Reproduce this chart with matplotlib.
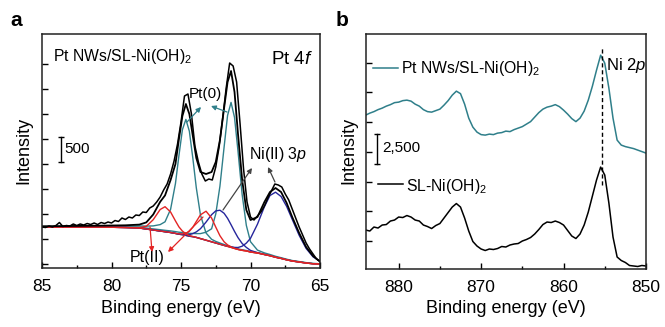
import matplotlib
matplotlib.use("Agg")
import matplotlib.pyplot as plt
from matplotlib.transforms import blended_transform_factory

plt.rcParams['font.family'] = ['Liberation Sans', 'DejaVu Sans']
plt.rcParams['mathtext.fontset'] = 'custom'
plt.rcParams['mathtext.rm'] = 'Liberation Sans'
plt.rcParams['mathtext.it'] = 'Liberation Sans:italic'
plt.rcParams['mathtext.bf'] = 'Liberation Sans:bold'

# ---------------- Panel a: Pt 4f region ----------------
E_fit = [85, 83, 81, 79, 78, 77.5, 77, 76.5, 76.15, 75.75, 75.4, 75.15, 74.9, 74.65, 74.4, 74.15,
         73.9, 73.6, 73.2, 72.8, 72.5, 72.2, 71.9, 71.65, 71.4, 71.15, 70.9, 70.6, 70.3, 70, 69.5,
         69, 68.6, 68.2, 67.8, 67.4, 67, 66.5, 66, 65.5, 65]
background = [740, 740, 740, 730, 720, 700, 680, 660, 646, 630, 612, 596, 586, 572, 556, 546,
              532, 508, 476, 444, 420, 396, 372, 352, 332, 312, 292, 274, 262, 240, 220,
              190, 166, 136, 112, 84, 60, 40, 20, 5, 0]
pt0_52 = [747, 749, 754, 758, 762, 758, 762, 788, 844, 1094, 1610, 2168, 2686, 2892, 2656, 2118,
          1524, 978, 620, 494, 452, 420, 390, 368, 346, 324, 303, 284, 271, 248, 227,
          196, 172, 141, 117, 88, 64, 44, 24, 8, 3]
pt0_72 = [748, 750, 752, 746, 738, 720, 702, 686, 674, 662, 648, 636, 630, 622, 612, 612,
          608, 608, 636, 704, 1000, 1556, 2338, 2972, 3232, 2932, 2258, 1386, 772, 446, 278,
          222, 190, 154, 126, 96, 70, 49, 28, 12, 6]
pt2_52 = [740, 740, 740, 730, 727, 754, 886, 1090, 1146, 1040, 862, 742, 659, 604, 568, 550,
          532, 508, 476, 444, 420, 396, 372, 352, 332, 312, 292, 274, 262, 240, 220,
          190, 166, 136, 112, 84, 60, 40, 20, 5, 0]
pt2_72 = [740, 740, 740, 730, 720, 700, 680, 660, 646, 630, 612, 602, 602, 616, 654, 736,
          850, 984, 1056, 920, 738, 566, 444, 382, 342, 312, 292, 274, 262, 240, 220,
          190, 166, 136, 112, 84, 60, 40, 20, 5, 0]
ni3p_a = [740, 740, 740, 730, 720, 700, 680, 660, 646, 630, 612, 598, 593, 588, 588, 608,
          642, 706, 838, 986, 1062, 1076, 1014, 914, 786, 652, 528, 410, 332, 272, 227,
          190, 166, 136, 112, 84, 60, 40, 20, 5, 0]
ni3p_b = [740, 740, 740, 730, 720, 700, 680, 660, 646, 630, 612, 596, 586, 572, 556, 546,
          532, 508, 476, 444, 420, 396, 372, 356, 342, 332, 330, 356, 418, 514, 796,
          1146, 1370, 1436, 1350, 1152, 894, 574, 312, 143, 56]
envelope = [755, 760, 766, 774, 788, 832, 990, 1244, 1372, 1680, 2000, 2500, 2960, 3200, 3000, 2560,
            2120, 1840, 1800, 1840, 2040, 2480, 3120, 3640, 3860, 3440, 2600, 1680, 1080, 880, 940,
            1240, 1440, 1520, 1440, 1220, 940, 620, 340, 160, 50]

E_data = [85.0, 84.75, 84.5, 84.25, 84.0, 83.75, 83.5, 83.25, 83.0, 82.75,
          82.5, 82.25, 82.0, 81.75, 81.5, 81.25, 81.0, 80.75, 80.5, 80.25,
          80.0, 79.75, 79.5, 79.25, 79.0, 78.75, 78.5, 78.25, 78.0, 77.75,
          77.5, 77.25, 77.0, 76.75, 76.5, 76.25, 76.0, 75.75, 75.5, 75.25,
          75.0, 74.75, 74.5, 74.25, 74.0, 73.75, 73.5, 73.25, 73.0, 72.75,
          72.5, 72.25, 72.0, 71.75, 71.5, 71.25, 71.0, 70.75, 70.5, 70.25,
          70.0, 69.75, 69.5, 69.25, 69.0, 68.75, 68.5, 68.25, 68.0, 67.75,
          67.5, 67.25, 67.0, 66.75, 66.5, 66.25, 66.0, 65.75, 65.5, 65.25, 65.0]
I_data = [740, 730, 760, 740, 770, 830, 750, 770, 760, 800,
          770, 800, 780, 810, 790, 820, 790, 830, 810, 840,
          820, 870, 850, 920, 890, 940, 920, 980, 970, 1040,
          1030, 1120, 1160, 1240, 1340, 1480, 1600, 1800, 2060, 2400,
          2840, 3360, 3400, 3000, 2360, 2040, 1800, 1660, 1700, 1680,
          1940, 2360, 2920, 3520, 4020, 3960, 3640, 2800, 1900, 1240,
          940, 880, 960, 1040, 1160, 1320, 1460, 1600, 1580, 1540,
          1400, 1280, 1100, 920, 740, 580, 420, 300, 200, 100, 50]

# ---------------- Panel b: Ni 2p region ----------------
E_b = [884.0, 883.5, 883.0, 882.5, 882.0, 881.5, 881.0, 880.5, 880.0, 879.5,
       879.0, 878.5, 878.0, 877.5, 877.0, 876.5, 876.0, 875.5, 875.0, 874.5,
       874.0, 873.5, 873.0, 872.5, 872.0, 871.5, 871.0, 870.5, 870.0, 869.5,
       869.0, 868.5, 868.0, 867.5, 867.0, 866.5, 866.0, 865.5, 865.0, 864.5,
       864.0, 863.5, 863.0, 862.5, 862.0, 861.5, 861.0, 860.5, 860.0, 859.5,
       859.0, 858.5, 858.0, 857.5, 857.0, 856.5, 856.0, 855.5, 855.0, 854.5,
       854.0, 853.5, 853.0, 852.5, 852.0, 851.5, 851.0, 850.5, 850.0]
I_sl = [3424, 3340, 3676, 3592, 3844, 3886, 4180, 4264, 4516, 4474,
        4642, 4516, 4264, 4180, 3844, 3718, 3550, 3802, 3970, 4432,
        4894, 5356, 5650, 5356, 4432, 3340, 2458, 2080, 1828, 1702,
        1828, 1786, 1870, 2038, 1996, 2164, 2248, 2290, 2500, 2626,
        2794, 3088, 3466, 3886, 4096, 4054, 4180, 4054, 3844, 3382,
        2920, 2710, 3088, 3844, 4936, 6280, 7624, 8716, 8044, 5692,
        2836, 1156, 862, 694, 442, 400, 358, 442, 400]
I_ptnw = [13084, 13252, 13378, 13546, 13672, 13840, 13966, 14134, 14176, 14302,
          14344, 14260, 14008, 13840, 13546, 13378, 13336, 13462, 13588, 13924,
          14302, 14764, 15100, 14890, 14008, 12832, 12076, 11656, 11446, 11404,
          11488, 11446, 11572, 11614, 11740, 11698, 11866, 11992, 12118, 12328,
          12538, 12916, 13294, 13588, 13756, 13840, 13966, 13798, 13504, 13168,
          12790, 12538, 12832, 13420, 14344, 15520, 16864, 18124, 17452, 15352,
          12832, 10984, 10564, 10438, 10354, 10270, 10144, 10018, 9892]
NI2P_PEAK = 855.3

TEAL = '#2f7f8a'
RED = '#e32424'
BLUE = '#26269c'
BROWN = '#8e4a34'
GREY = '#444444'

fig = plt.figure(figsize=(6.65, 3.27), dpi=100)
axa = fig.add_axes([0.0632, 0.1804, 0.4180, 0.7141])
axb = fig.add_axes([0.5499, 0.1774, 0.4215, 0.7171])

# ---- panel a curves
axa.plot(E_fit, background, color=BROWN, lw=1.0)
axa.plot(E_fit, pt0_52, color=TEAL, lw=1.0)
axa.plot(E_fit, pt0_72, color=TEAL, lw=1.0)
axa.plot(E_fit, ni3p_a, color=BLUE, lw=1.0)
axa.plot(E_fit, ni3p_b, color=BLUE, lw=1.0)
axa.plot(E_fit, pt2_52, color=RED, lw=1.0)
axa.plot(E_fit, pt2_72, color=RED, lw=1.0)
axa.plot(E_fit, envelope, color='black', lw=1.3)
axa.plot(E_data, I_data, color='black', lw=1.1)

axa.set_xlim(85, 65)
axa.set_ylim(-80, 4590)
axa.set_xticks([85, 80, 75, 70, 65])
axa.set_xticks([82.5, 77.5, 72.5, 67.5], minor=True)
axa.set_yticks(range(0, 4001, 500))

# ---- panel b curves
axb.plot(E_b, I_ptnw, color=TEAL, lw=1.1)
axb.plot(E_b, I_sl, color='black', lw=1.1)
axb.vlines(NI2P_PEAK, 7200, 18800, colors='black', linestyles=(0, (3, 2)), lw=1.0)
axb.set_xlim(884, 850)
axb.set_ylim(148, 19863)
axb.set_xticks([880, 870, 860, 850])
axb.set_xticks([875, 865, 855], minor=True)
axb.set_yticks(range(2500, 17501, 2500))

for ax in (axa, axb):
    ax.tick_params(axis='both', which='major', direction='in', length=4, width=1,
                   labelsize=12.5, pad=8, top=False, right=False)
    ax.tick_params(axis='x', which='minor', direction='in', length=2.5, width=1, top=False)
    ax.tick_params(axis='y', labelleft=False)
    for s in ax.spines.values():
        s.set_linewidth(1.1)
        s.set_color('#222222')
    ax.set_xlabel('Binding energy (eV)', fontsize=13)
    ax.set_ylabel('Intensity', fontsize=13)

axa.xaxis.set_label_coords(0.5, -0.137)
axa.yaxis.set_label_coords(-0.035, 0.505)
axb.xaxis.set_label_coords(0.5005, -0.132)
axb.yaxis.set_label_coords(-0.03, 0.507)

# ---- panel a annotations
ta = axa.transAxes
axa.text(0.04, 0.8865, 'Pt NWs/SL-Ni(OH)$_2$', transform=ta, fontsize=11.3, ha='left', va='baseline')
axa.text(0.975, 0.874, 'Pt 4$\\it{f}$', transform=ta, fontsize=13.5, ha='right', va='baseline')
axa.text(0.529, 0.728, 'Pt(0)', transform=ta, fontsize=11, ha='left', va='baseline')
axa.text(0.745, 0.467, 'Ni(II) 3$\\it{p}$', transform=ta, fontsize=11.5, ha='left', va='baseline')
axa.text(0.317, 0.027, 'Pt(II)', transform=ta, fontsize=11.5, ha='left', va='baseline')
axa.text(0.079, 0.51, '500', transform=ta, fontsize=11, ha='left', va='center')
bta = blended_transform_factory(axa.transAxes, axa.transData)
axa.plot([0.068, 0.068], [2040, 2540], transform=bta, color='black', lw=1.0,
         marker='_', markersize=5, mew=1.0)

def arrow(ax, tail, head, color):
    ax.annotate('', xy=head, xytext=tail, xycoords='axes fraction', textcoords='axes fraction',
                arrowprops=dict(arrowstyle='-|>', color=color, lw=0.9, mutation_scale=7,
                                shrinkA=0, shrinkB=0))

arrow(axa, (0.5216, 0.6253), (0.572, 0.6895), TEAL)
arrow(axa, (0.6655, 0.668), (0.6079, 0.6938), TEAL)
arrow(axa, (0.651, 0.2484), (0.7554, 0.4283), GREY)
arrow(axa, (0.838, 0.3683), (0.813, 0.4325), GREY)
arrow(axa, (0.3885, 0.1756), (0.3957, 0.0685), RED)
arrow(axa, (0.5791, 0.2184), (0.4532, 0.0685), RED)

# ---- panel b annotations
tb = axb.transAxes
axb.plot([0.0274, 0.1166], [0.8564, 0.8564], transform=tb, color=TEAL, lw=1.1)
axb.text(0.126, 0.835, 'Pt NWs/SL-Ni(OH)$_2$', transform=tb, fontsize=11.3, ha='left', va='baseline')
axb.plot([0.0439, 0.133], [0.362, 0.362], transform=tb, color='black', lw=1.1)
axb.text(0.1438, 0.3336, 'SL-Ni(OH)$_2$', transform=tb, fontsize=11.3, ha='left', va='baseline')
axb.text(0.857, 0.848, 'Ni 2$\\it{p}$', transform=tb, fontsize=12, ha='left', va='baseline')
axb.text(0.058, 0.5155, '2,500', transform=tb, fontsize=11, ha='left', va='center')
btb = blended_transform_factory(axb.transAxes, axb.transData)
axb.plot([0.040, 0.040], [9000, 11500], transform=btb, color='black', lw=1.0,
         marker='_', markersize=5, mew=1.0)

fig.text(0.015, 0.92, 'a', fontsize=15, fontweight='bold', ha='left', va='baseline')
fig.text(0.505, 0.92, 'b', fontsize=15, fontweight='bold', ha='left', va='baseline')

fig.savefig('out.png', dpi=100)
